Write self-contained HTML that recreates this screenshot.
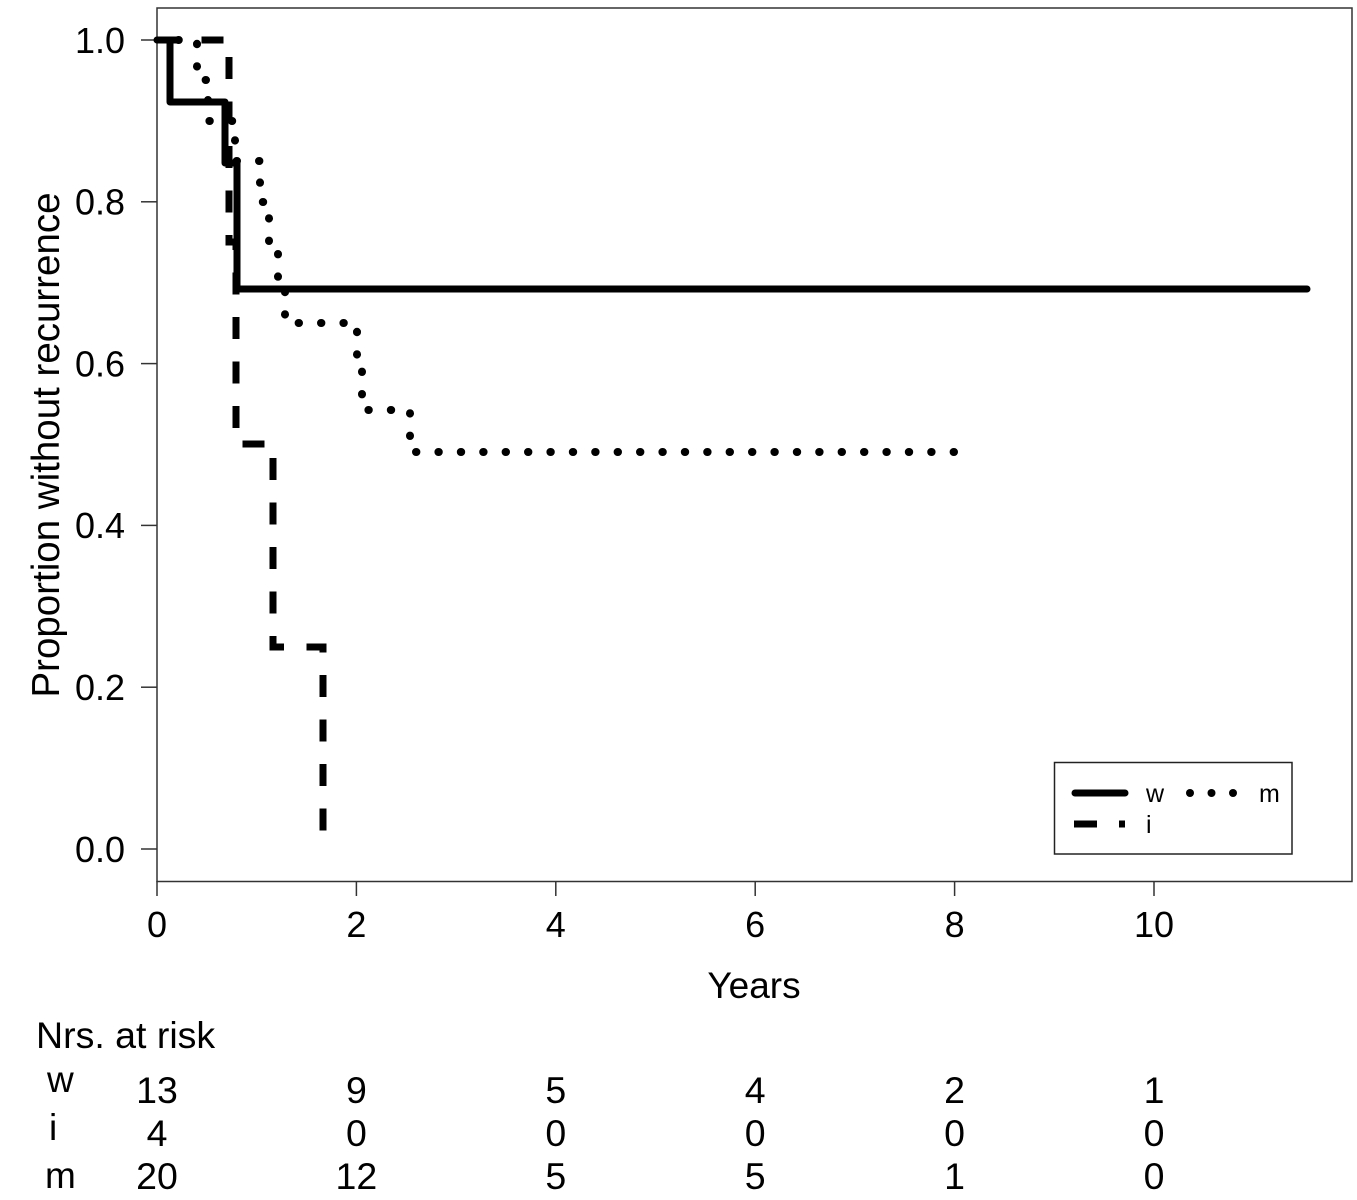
<!DOCTYPE html>
<html>
<head>
<meta charset="utf-8">
<style>
  html, body { margin:0; padding:0; background:#fff; }
  svg { display:block; }
  text { font-family: "Liberation Sans", Arial, sans-serif; fill:#000; }
</style>
</head>
<body>
<svg width="1357" height="1200" viewBox="0 0 1357 1200" xmlns="http://www.w3.org/2000/svg">
  <rect x="0" y="0" width="1357" height="1200" fill="#fff"/>
  <!-- frame -->
  <rect x="157" y="8" width="1195" height="873.5" fill="none" stroke="#333" stroke-width="1.5"/>
  <!-- ticks -->
  <g stroke="#333" stroke-width="1.5">
    <line x1="141" y1="40" x2="157" y2="40"/>
    <line x1="141" y1="201.8" x2="157" y2="201.8"/>
    <line x1="141" y1="363.6" x2="157" y2="363.6"/>
    <line x1="141" y1="525.4" x2="157" y2="525.4"/>
    <line x1="141" y1="687.2" x2="157" y2="687.2"/>
    <line x1="141" y1="849" x2="157" y2="849"/>
    <line x1="157" y1="881" x2="157" y2="896"/>
    <line x1="356.4" y1="881" x2="356.4" y2="896"/>
    <line x1="555.8" y1="881" x2="555.8" y2="896"/>
    <line x1="755.2" y1="881" x2="755.2" y2="896"/>
    <line x1="954.6" y1="881" x2="954.6" y2="896"/>
    <line x1="1154" y1="881" x2="1154" y2="896"/>
  </g>
  <!-- y tick labels -->
  <g font-size="36" text-anchor="end">
    <text x="125" y="53">1.0</text>
    <text x="125" y="214.5">0.8</text>
    <text x="125" y="376.5">0.6</text>
    <text x="125" y="538">0.4</text>
    <text x="125" y="700">0.2</text>
    <text x="125" y="862">0.0</text>
  </g>
  <!-- x tick labels -->
  <g font-size="36" text-anchor="middle">
    <text x="157" y="937">0</text>
    <text x="356.4" y="937">2</text>
    <text x="555.8" y="937">4</text>
    <text x="755.2" y="937">6</text>
    <text x="954.6" y="937">8</text>
    <text x="1154" y="937">10</text>
  </g>
  <!-- axis titles -->
  <text x="754" y="998" font-size="37" text-anchor="middle">Years</text>
  <text transform="translate(59,445) rotate(-90)" font-size="38.5" text-anchor="middle">Proportion without recurrence</text>

  <!-- w solid -->
  <path d="M157,40 H170 V102 H225 V163 H237 V289 H1307" fill="none" stroke="#000" stroke-width="7" stroke-linejoin="round" stroke-linecap="round"/>
  <!-- i dashed -->
  <path d="M157,40 H229 V242 H236 V444 H273 V647 H323 V849" fill="none" stroke="#000" stroke-width="7" stroke-dasharray="22 22.5" stroke-linecap="butt"/>
  <!-- m dotted -->
  <path d="M157,40 H197 V80 H208 V121 H235 V161 H260 V202 H269 V242 H278 V283 H285 V323 H357 V367 H362 V410 H410 V452 H955" fill="none" stroke="#000" stroke-width="8" stroke-dasharray="0.4 22" stroke-dashoffset="1" stroke-linecap="round"/>

  <!-- legend -->
  <rect x="1054.5" y="762.5" width="237.5" height="91.5" fill="#fff" stroke="#222" stroke-width="1.5"/>
  <line x1="1075" y1="793" x2="1125" y2="793" stroke="#000" stroke-width="7" stroke-linecap="round"/>
  <text x="1146" y="802" font-size="25" fill="#222">w</text>
  <g fill="#000">
    <circle cx="1190" cy="793" r="4"/>
    <circle cx="1211.5" cy="793" r="4"/>
    <circle cx="1233" cy="793" r="4"/>
  </g>
  <text x="1259" y="802" font-size="25" fill="#222">m</text>
  <line x1="1074" y1="824" x2="1097" y2="824" stroke="#000" stroke-width="7"/>
  <line x1="1119" y1="824" x2="1125" y2="824" stroke="#000" stroke-width="7"/>
  <text x="1146" y="833" font-size="25" fill="#222">i</text>

  <!-- numbers at risk -->
  <text x="36" y="1048" font-size="37.5">Nrs. at risk</text>
  <g font-size="37">
    <text x="47" y="1092">w</text>
    <text x="49" y="1140">i</text>
    <text x="45" y="1188">m</text>
  </g>
  <g font-size="37.5" text-anchor="middle">
    <text x="157" y="1103">13</text>
    <text x="356.4" y="1103">9</text>
    <text x="555.8" y="1103">5</text>
    <text x="755.2" y="1103">4</text>
    <text x="954.6" y="1103">2</text>
    <text x="1154" y="1103">1</text>

    <text x="157" y="1146">4</text>
    <text x="356.4" y="1146">0</text>
    <text x="555.8" y="1146">0</text>
    <text x="755.2" y="1146">0</text>
    <text x="954.6" y="1146">0</text>
    <text x="1154" y="1146">0</text>

    <text x="157" y="1189">20</text>
    <text x="356.4" y="1189">12</text>
    <text x="555.8" y="1189">5</text>
    <text x="755.2" y="1189">5</text>
    <text x="954.6" y="1189">1</text>
    <text x="1154" y="1189">0</text>
  </g>
</svg>
</body>
</html>
